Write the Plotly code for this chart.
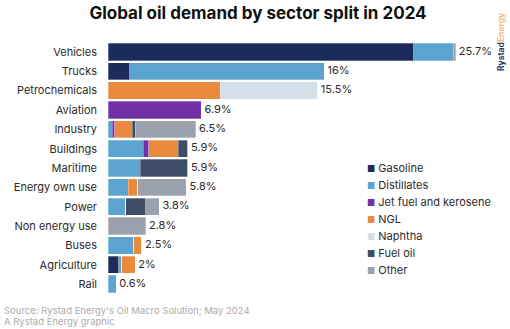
import plotly.graph_objects as go

# Sectors, top to bottom
sectors = ["Vehicles", "Trucks", "Petrochemicals", "Aviation", "Industry", "Buildings",
           "Maritime", "Energy own use", "Power", "Non energy use", "Buses",
           "Agriculture", "Rail"]

# Share of global oil demand (%) by product, per sector
gasoline   = [22.6, 1.6, 0,   0,   0,   0,   0,   0,   0,   0,   0,   0.8, 0]
distillates = [2.9, 14.4, 0,  0,   0.3, 2.6, 2.4, 1.5, 1.3, 0,   1.9, 0.2, 0.6]
jet_fuel   = [0,    0,    0,   6.9, 0.2, 0.4, 0,   0,   0,   0,   0,   0,   0]
ngl        = [0,    0,    8.3, 0,   1.3, 2.2, 0,   0.7, 0,   0,   0.6, 1.0, 0]
naphtha    = [0,    0,    7.2, 0,   0,   0,   0,   0,   0,   0,   0,   0,   0]
fuel_oil   = [0,    0,    0,   0,   0.2, 0.7, 3.5, 0,   1.5, 0,   0,   0,   0]
other      = [0.2,  0,    0,   0,   4.5, 0,   0,   3.6, 1.0, 2.8, 0,   0,   0]

series = [
    ("Gasoline", gasoline, "#1b2b5b"),
    ("Distillates", distillates, "#5ba4cf"),
    ("Jet fuel and kerosene", jet_fuel, "#7130a6"),
    ("NGL", ngl, "#ea8a3d"),
    ("Naphtha", naphtha, "#d5dfe9"),
    ("Fuel oil", fuel_oil, "#3e4c66"),
    ("Other", other, "#9ba1ad"),
]

FONT = "Inter, Arial, sans-serif"
TEXT = "#2b2b2b"

fig = go.Figure()
for name, vals, color in series:
    fig.add_trace(go.Bar(
        y=sectors, x=vals, name=name, orientation="h",
        marker=dict(color=color, line=dict(color="rgba(255,255,255,0.6)", width=0.5)),
        hoverinfo="x+name", showlegend=False,
    ))

# Total labels at the end of each stacked bar
totals = [round(sum(s[1][i] for s in series), 1) for i in range(len(sectors))]
fig.add_trace(go.Scatter(
    y=sectors, x=totals, mode="text",
    text=[f" {t:g}%" for t in totals], textposition="middle right",
    textfont=dict(family=FONT, size=11, color=TEXT),
    showlegend=False, hoverinfo="skip", cliponaxis=False,
))

# Plot area in pixels, used to place the legend block
L, R, T, B = 108, 487, 39, 297
W, H = 510, 329

def px_x(p):
    return (p - L) / (R - L)

def px_y(p):
    return (B - p) / (B - T)

annotations = []
for i, (name, vals, color) in enumerate(series):
    py = 167.5 + i * 17
    annotations.append(dict(
        x=px_x(365), y=px_y(py), xref="paper", yref="paper",
        xanchor="left", yanchor="middle", showarrow=False,
        text=f"<span style='color:{color};font-size:9px'>■</span> {name}",
        font=dict(family=FONT, size=11, color=TEXT),
    ))

annotations += [
    dict(x=px_x(2), y=px_y(310), xref="paper", yref="paper", xanchor="left", yanchor="middle",
         showarrow=False, text="Source: Rystad Energy's Oil Macro Solution; May 2024",
         font=dict(family=FONT, size=9.5, color="#acacac")),
    dict(x=px_x(2), y=px_y(321), xref="paper", yref="paper", xanchor="left", yanchor="middle",
         showarrow=False, text="A Rystad Energy graphic",
         font=dict(family=FONT, size=9.5, color="#acacac")),
    dict(x=px_x(501), y=px_y(42), xref="paper", yref="paper", xanchor="center", yanchor="middle",
         showarrow=False, textangle=-90,
         text="<b><span style='color:#2c3d63'>Rystad</span><span style='color:#f2b98a'>Energy</span></b>",
         font=dict(family=FONT, size=8.5)),
]

fig.update_layout(
    barmode="stack",
    bargap=0.11,
    width=W, height=H,
    margin=dict(l=L, r=W - R, t=T, b=H - B, pad=0),
    paper_bgcolor="white", plot_bgcolor="white",
    title=dict(text="<b>Global oil demand by sector split in 2024</b>",
               x=258 / W, xanchor="center", y=1 - 13 / H, yanchor="middle",
               font=dict(family=FONT, size=17, color="#111111")),
    xaxis=dict(range=[0, (R - L) / 13.53], visible=False, fixedrange=True),
    yaxis=dict(autorange="reversed", showgrid=False, zeroline=False, showline=False,
               ticks="", ticklabelstandoff=10,
               tickfont=dict(family=FONT, size=11, color=TEXT)),
    annotations=annotations,
    showlegend=False,
)

fig.write_html("out.html")
